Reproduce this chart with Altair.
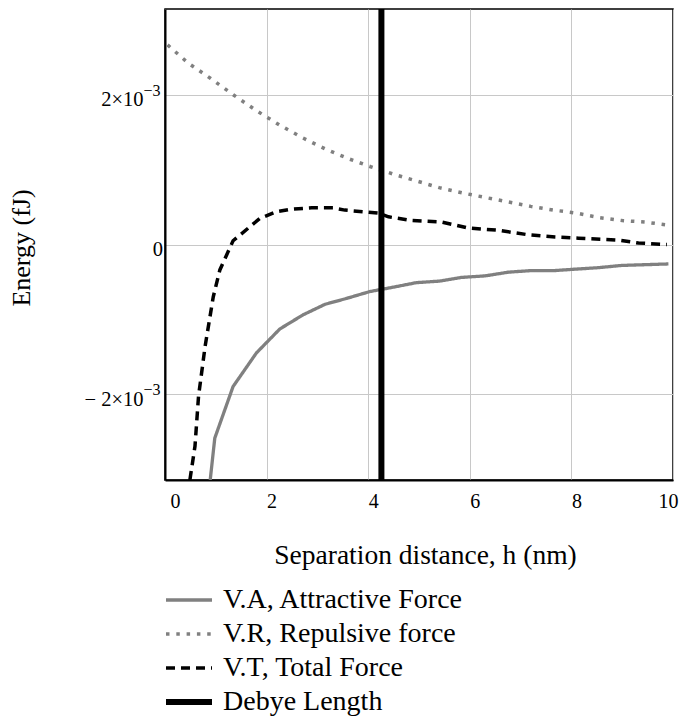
import altair as alt
import pandas as pd

SERIES = ["V.A, Attractive Force", "V.R, Repulsive force", "V.T, Total Force", "Debye Length"]

# values in units of 1e-3 fJ
va_x = [0.89, 0.98, 1.34, 1.80, 2.26, 2.72, 3.15, 3.58, 4.03, 4.50, 4.95, 5.40, 5.84, 6.30, 6.76, 7.19, 7.64, 8.07, 8.53, 8.99, 9.45, 9.91]
va_y = [-3.15, -2.59, -1.90, -1.45, -1.13, -0.94, -0.80, -0.72, -0.63, -0.57, -0.51, -0.49, -0.44, -0.42, -0.37, -0.35, -0.35, -0.33, -0.31, -0.28, -0.27, -0.26]

vr_x = [0.05, 0.45, 0.90, 1.35, 1.80, 2.25, 2.70, 3.15, 3.60, 4.05, 4.50, 4.95, 5.40, 5.85, 6.30, 6.75, 7.20, 7.65, 8.10, 8.55, 9.00, 9.45, 9.90]
vr_y = [2.67, 2.43, 2.22, 2.00, 1.79, 1.60, 1.43, 1.28, 1.15, 1.04, 0.94, 0.85, 0.76, 0.69, 0.63, 0.57, 0.51, 0.46, 0.42, 0.36, 0.32, 0.30, 0.26]

vt_x = [0.49, 0.59, 0.66, 0.79, 0.95, 1.08, 1.34, 1.87, 2.20, 2.46, 2.89, 3.31, 3.54, 4.20, 4.40, 4.86, 5.45, 5.97, 6.56, 7.15, 7.68, 8.14, 8.92, 9.32, 9.88]
vt_y = [-3.15, -2.70, -2.03, -1.36, -0.70, -0.34, 0.05, 0.35, 0.44, 0.47, 0.49, 0.49, 0.46, 0.42, 0.37, 0.32, 0.30, 0.22, 0.19, 0.13, 0.10, 0.085, 0.06, 0.02, 0.00]

debye_h = [4.26]

y_ticks = [-2e-3, 0.0, 2e-3]
x_ticks = [0, 2, 4, 6, 8, 10]
sup_vals = [-2e-3, 2e-3]
sup_text = ["\u22123", "\u22123"]
zero_label = ["0"]

rows = []
for name, xs, ys in [(SERIES[0], va_x, va_y), (SERIES[1], vr_x, vr_y), (SERIES[2], vt_x, vt_y)]:
    for i, (x, y) in enumerate(zip(xs, ys)):
        rows.append({"h": x, "E": y * 1e-3, "series": name, "i": i})
lines_df = pd.DataFrame(rows)
debye_df = pd.DataFrame({"h": debye_h, "series": [SERIES[3]]})
sup_df = pd.DataFrame({"E": sup_vals, "t": sup_text})
zero_df = pd.DataFrame({"E": [0.0], "t": zero_label})

FONT = "Liberation Serif"

color_scale = alt.Scale(domain=SERIES, range=["#808080", "#808080", "#000000", "#000000"])
dash_scale = alt.Scale(type="ordinal", domain=SERIES, range=[[1, 0], [3.5, 6.8], [9, 6], [1, 0]])
width_scale = alt.Scale(type="ordinal", domain=SERIES, range=[3.3, 3.5, 3.5, 6])

legend = alt.Legend(
    title=None, orient="none", legendX=-2, legendY=577, direction="vertical",
    labelFont=FONT, labelFontSize=28, labelColor="black", labelOffset=8,
    symbolType="stroke", symbolSize=2116, clipHeight=28, rowPadding=6, labelLimit=400,
)

x_enc = alt.X("h:Q", scale=alt.Scale(domain=[0, 10], nice=False),
              axis=alt.Axis(values=x_ticks, title="Separation distance, h (nm)",
                            labelOffset=5, labelPadding=11,
                            titleFontSize=27.5, titleX=260, titleY=83,
                            titleBaseline="alphabetic", titleAlign="center"))
y_scale = alt.Scale(domain=[-3.15e-3, 3.15e-3], nice=False, zero=False)
y_enc = alt.Y("E:Q", scale=y_scale,
              axis=alt.Axis(values=y_ticks, title="Energy (fJ)",
                            labelExpr="datum.value == 0 ? '' : (datum.value < 0 ? '\u2212 2\u00d710' : '2\u00d710')",
                            labelPadding=22, labelOffset=5, labelFontSize=20.5,
                            titleFontSize=26, titleX=-136, titleY=238.5,
                            titleBaseline="alphabetic", titleAlign="center", titleAngle=270))

color_enc = alt.Color("series:N", scale=color_scale, legend=legend)
dash_enc = alt.StrokeDash("series:N", scale=dash_scale)
width_enc = alt.StrokeWidth("series:N", scale=width_scale)

lines = alt.Chart(lines_df).mark_line(clip=True, strokeCap="butt").encode(
    x=x_enc, y=y_enc, color=color_enc, strokeDash=dash_enc, strokeWidth=width_enc,
    detail="series:N", order="i:Q",
)

debye = alt.Chart(debye_df).mark_rule(strokeCap="butt").encode(
    x="h:Q", color=color_enc, strokeDash=dash_enc, strokeWidth=width_enc,
)

sup = alt.Chart(sup_df).mark_text(align="left", baseline="alphabetic", dy=1.4,
                                   font=FONT, fontSize=16, color="black").encode(
    y=alt.Y("E:Q", scale=y_scale), x=alt.value(-21.5), text="t:N")

zero = alt.Chart(zero_df).mark_text(align="right", baseline="middle", dy=5,
                                    font=FONT, fontSize=20.5, color="black").encode(
    y=alt.Y("E:Q", scale=y_scale), x=alt.value(-2), text="t:N")

chart = alt.layer(lines, debye, sup, zero).properties(
    width=508, height=471,
    autosize=alt.AutoSizeParams(type="none"),
    padding={"left": 157, "top": 1, "right": 8, "bottom": 240},
    background="white",
).configure_view(
    stroke="black", strokeWidth=1.5,
).configure_axis(
    labelFont=FONT, labelFontSize=20, labelColor="black",
    titleFont=FONT, titleFontSize=26, titleFontWeight="normal", titleColor="black",
    grid=True, gridColor="#c8c8c8", gridWidth=1,
    ticks=False, domainColor="black", domainWidth=2,
)

chart.save("out.html", embed_options={"renderer": "svg", "actions": False})
